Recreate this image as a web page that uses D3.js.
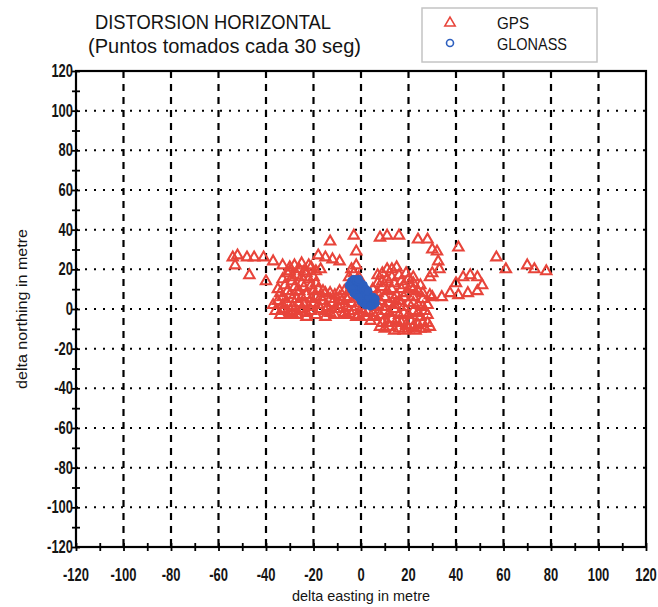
<!DOCTYPE html>
<html><head><meta charset="utf-8">
<script src="https://cdn.jsdelivr.net/npm/d3@7"></script>
<style>body{margin:0;background:#fff}svg{display:block}</style>
</head><body><svg id="c" width="658" height="607"></svg>
<script>
const titleLines = ["DISTORSION HORIZONTAL", "(Puntos tomados cada 30 seg)"];
const seriesNames = ["GPS", "GLONASS"];
const xAxisTitle = "delta easting in metre";
const yAxisTitle = "delta northing in metre";
const tickValues = [-120, -100, -80, -60, -40, -20, 0, 20, 40, 60, 80, 100, 120];
const tickLabels = ["-120", "-100", "-80", "-60", "-40", "-20", "0", "20", "40", "60", "80", "100", "120"];
const minorTickValues = [-110, -90, -70, -50, -30, -10, 10, 30, 50, 70, 90, 110];
const gridValues = [-100, -80, -60, -40, -20, 0, 20, 40, 60, 80, 100];

// GPS (delta easting, delta northing) in metres
const gpsPoints = [
  [-13,34],[-3,37],[-2,29],[8,36],[11,37],[16,37],[24,35],[28,35],[41,31],[57,26],[61,20],[70,22],[73,20],[78,19],
  [-18,27],[-15,26],[-12,25],[-9,24],
  [-54,26],[-52,27],[-48,26],[-45,26],[-41,26],[-37,24],[-33,22],[-30,21],[-53,22],[-47,17],[-40,14],
  [30,30],[32,29],[32.5,24],[33,20],[30,18],[29,16],[22,16],[22,10],[29,7],[28,2],
  [40,13],[43,16],[46,17],[49,16],[51,12],[49,9],[45,8],[41,7],[37.5,8],[34,6],[30,6],
  [-28,22],[-25,23],[-21,21],[-17,20],[-24,19],[-4,20],[-2,22],
  [-31,18],[-27,17],[-23,18],[-20,16],[-29,14],[-3,18],[-1,16],[9,18],[13,20],[16,17],[11,15],
  [-32,12],[-28,11],[-25,13],[-21,12],[-18,10],[-4,12],[7,13],[14,13],[18,12],[20,15],
  [-34,8],[-30,7],[-26,9],[-23,7],[-19,6],[-15,8],[-11,7],[-7,9],[-5,6],[7,8],[11,9],[15,7],[19,8],[24,9],[26,5],
  [-35,4],[-31,3],[-27,5],[-24,2],[-20,3],[-16,4],[-12,3],[-8,4],[-4,3],[0,0],[8,4],[12,3],[16,4],[20,3],[24,2],[27,-1],
  [-36,-1],[-33,0],[-29,-2],[-25,0],[-21,-1],[-17,0],[-13,-2],[-9,0],[-5,-1],[-1,-3],[3,-1],[6,1],[10,-1],[14,0],[18,-2],[22,-1],[25,-4],
  [-34,-3],[-27,-3],[-19,-3],[-11,-3],[-6,-3],[-2,-4],[2,-4],[6,-4],[9,-7],[13,-5],[17,-7],[21,-6],[24,-8],[28,-7],
  [8,-9],[12,-9],[16,-10],[20,-10],[23,-11],[27,-10],[18,-11],[25,-10],
  [-26,20],[-22,22],[-19,19],[-30,19],[11,20],[15,21],[7,17],
  [-33,15],[-29,16],[-25,16],[-22,15],[-19,13],[-5,16],[9,14],[13,16],[17,14],[22,13],[19,18],
  [-35,10],[-31,9],[-27,9],[-24,11],[-20,9],[-16,9],[-13,8],[-9,9],[-5,9],[9,11],[13,10],[17,10],[21,11],[25,12],[5,10],
  [-33,6],[-29,5],[-25,6],[-21,5],[-17,6],[-13,5],[-9,6],[-6,5],[6,6],[10,6],[14,5],[18,6],[22,6],[26,8],
  [-37,2],[-33,2],[-29,1],[-26,3],[-22,1],[-18,2],[-14,1],[-10,2],[-6,1],[-2,1],[7,2],[10,1],[14,2],[18,1],[22,3],[26,1],
  [-31,-1],[-27,-1],[-23,-2],[-15,-1],[-11,0],[-7,-2],[-3,-1],[1,-2],[5,-2],[8,-3],[12,-2],[16,-3],[20,-3],[24,-2],[28,-3],
  [-30,-3],[-23,-4],[-15,-4],[4,-6],[11,-7],[15,-6],[19,-8],[22,-9],[26,-7],[29,-9],[10,-10],[14,-11]
];

// GLONASS (delta easting, delta northing) in metres
const glonassPoints = [
  [-4,14],[-3,15],[-2,13],[-3,12],[-1,12],[-2,10],[0,11],[-1,9],[0,8],[1,9],[1,7],[2,6],[3,7],[2,5],[3,4],
  [4,5],[4,3],[5,3],[5,4],[3,2],[-2,14],[0,13],[1,10],[2,8],[4,6],[-3,10],[-1,14],[0,6],[3,5.5],[5,2],
  [-1,15],[1,12],[2,10],[3,9],[5,6],[6,5],[6,3],[-5,12],[-4,10],[-3,8],[-2,7],[-1,6],[0,4],[1,3],[2,2],[4,1.5]
];

const pLeft = 76, pRight = 646, pTop = 71, pBottom = 547;
const svg = d3.select("#c");
const font = "'Liberation Sans',Arial,sans-serif";
const red = "#e8443a", blue = "#2d5fbf", ink = "#141414";

const x = d3.scaleLinear().domain([-120, 120]).range([pLeft, pRight]);
const y = d3.scaleLinear().domain([-120, 120]).range([pBottom, pTop]);

// gridlines
svg.append("g").selectAll("line").data(gridValues).join("line")
  .attr("x1", d => x(d)).attr("x2", d => x(d)).attr("y1", pTop).attr("y2", pBottom)
  .attr("stroke", "#000").attr("stroke-width", 2.2).attr("stroke-dasharray", "7,6");
svg.append("g").selectAll("line").data(gridValues).join("line")
  .attr("y1", d => y(d)).attr("y2", d => y(d)).attr("x1", pLeft).attr("x2", pRight)
  .attr("stroke", "#000").attr("stroke-width", 2).attr("stroke-dasharray", "2,7");

// frame
svg.append("rect").attr("x", pLeft).attr("y", pTop).attr("width", pRight - pLeft).attr("height", pBottom - pTop)
  .attr("fill", "none").attr("stroke", "#000").attr("stroke-width", 2.2);

// axes with cross ticks
const allTicks = tickValues.concat(minorTickValues);
const xAxis = d3.axisBottom(x).tickValues(allTicks).tickSizeInner(4).tickSizeOuter(0).tickFormat("");
const gx = svg.append("g").attr("transform", `translate(0,${pBottom})`).call(xAxis);
gx.select(".domain").remove();
gx.selectAll(".tick line").attr("y1", -4).attr("y2", 4).attr("stroke-width", 1.8);
const yAxis = d3.axisLeft(y).tickValues(allTicks).tickSizeInner(4).tickSizeOuter(0).tickFormat("");
const gy = svg.append("g").attr("transform", `translate(${pLeft},0)`).call(yAxis);
gy.select(".domain").remove();
gy.selectAll(".tick line").attr("x1", -4).attr("x2", 4).attr("stroke-width", 1.8);

// tick labels (condensed)
svg.append("g").selectAll("text").data(tickValues).join("text")
  .attr("transform", d => `translate(${x(d)},${pBottom + 34}) scale(0.72,1)`).attr("text-anchor", "middle")
  .attr("font-family", font).attr("font-size", 18).attr("font-weight", "bold").attr("fill", ink)
  .text((d, i) => tickLabels[i]);
svg.append("g").selectAll("text").data(tickValues).join("text")
  .attr("transform", d => `translate(${pLeft - 3},${y(d) + 6}) scale(0.72,1)`).attr("text-anchor", "end")
  .attr("font-family", font).attr("font-size", 18).attr("font-weight", "bold").attr("fill", ink)
  .text((d, i) => tickLabels[i]);

// axis titles
svg.append("text").attr("x", x(0) - 69).attr("y", 601).attr("textLength", 138).attr("lengthAdjust", "spacingAndGlyphs")
  .attr("font-family", font).attr("font-size", 15).attr("fill", ink).text(xAxisTitle);
svg.append("text").attr("transform", `translate(27,${y(0) + 80}) rotate(-90)`)
  .attr("textLength", 160).attr("lengthAdjust", "spacingAndGlyphs")
  .attr("font-family", font).attr("font-size", 15).attr("fill", ink).text(yAxisTitle);

// titles
svg.append("text").attr("x", 95).attr("y", 29).attr("textLength", 236).attr("lengthAdjust", "spacingAndGlyphs")
  .attr("font-family", font).attr("font-size", 21).attr("fill", ink).text(titleLines[0]);
svg.append("text").attr("x", 88).attr("y", 53).attr("textLength", 273).attr("lengthAdjust", "spacingAndGlyphs")
  .attr("font-family", font).attr("font-size", 20).attr("fill", ink).text(titleLines[1]);

// legend
svg.append("rect").attr("x", 422).attr("y", 8).attr("width", 175).attr("height", 54)
  .attr("fill", "#fff").attr("stroke", "#c4c4c4").attr("stroke-width", 1.5);
const tri = d3.symbol().type(d3.symbolTriangle).size(46);
svg.append("path").attr("d", tri()).attr("transform", "translate(450,23)")
  .attr("fill", "none").attr("stroke", red).attr("stroke-width", 1.6);
svg.append("circle").attr("cx", 450).attr("cy", 43).attr("r", 3.5)
  .attr("fill", "none").attr("stroke", blue).attr("stroke-width", 1.6);
svg.append("text").attr("x", 497).attr("y", 29).attr("textLength", 32).attr("lengthAdjust", "spacingAndGlyphs")
  .attr("font-family", font).attr("font-size", 17).attr("fill", ink).text(seriesNames[0]);
svg.append("text").attr("x", 497).attr("y", 50).attr("textLength", 70).attr("lengthAdjust", "spacingAndGlyphs")
  .attr("font-family", font).attr("font-size", 17).attr("fill", ink).text(seriesNames[1]);

// data
svg.append("g").selectAll("path").data(gpsPoints).join("path")
  .attr("d", tri()).attr("transform", d => `translate(${x(d[0])},${y(d[1])})`)
  .attr("fill", "none").attr("stroke", red).attr("stroke-width", 2.1);
svg.append("g").selectAll("circle").data(glonassPoints).join("circle")
  .attr("cx", d => x(d[0])).attr("cy", d => y(d[1])).attr("r", 4)
  .attr("fill", blue).attr("stroke", blue).attr("stroke-width", 1);
</script></body></html>
